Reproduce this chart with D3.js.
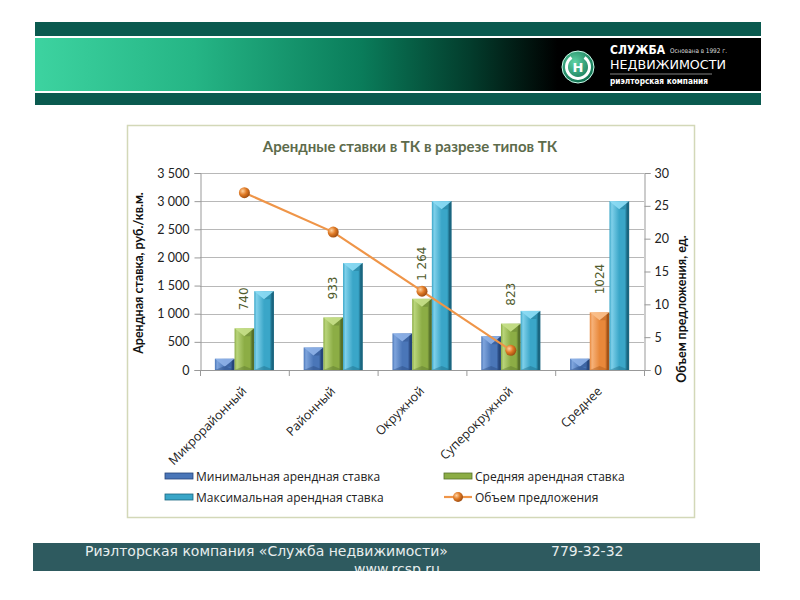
<!DOCTYPE html>
<html><head><meta charset="utf-8">
<script src="https://cdn.jsdelivr.net/npm/d3@7/dist/d3.min.js"></script>
<style>html,body{margin:0;padding:0;background:#fff;}svg{display:block;}</style>
</head><body>
<script>
// ---- data ----
const categories = ["Микрорайонный","Районный","Окружной","Суперокружной","Среднее"];
const minRate = [200, 400, 650, 600, 200];
const avgRate = [740, 933, 1264, 823, 1024];
const maxRate = [1400, 1900, 3000, 1050, 3000];
const supply = [27, 21, 12, 3, null];
const avgLabels = ["740", "933", "1 264", "823", "1024"];
const leftTicks = [0, 500, 1000, 1500, 2000, 2500, 3000, 3500];
const leftTickLabels = ["0", "500", "1 000", "1 500", "2 000", "2 500", "3 000", "3 500"];
const rightTicks = [0, 5, 10, 15, 20, 25, 30];
const seriesNames = ["Минимальная арендная ставка", "Средняя арендная ставка", "Максимальная арендная ставка", "Объем предложения"];

const W = 800, H = 600;
const svg = d3.select("body").append("svg").attr("width", W).attr("height", H);
const defs = svg.append("defs");

// ---- header ----
const hg = defs.append("linearGradient").attr("id","hdr").attr("x1","0").attr("x2","1");
[[0,"#3dd3a0"],[0.22,"#25b585"],[0.45,"#0a7c5a"],[0.6,"#033c2c"],[0.72,"#000"],[1,"#000"]].forEach(s=>hg.append("stop").attr("offset",s[0]).attr("stop-color",s[1]));
svg.append("rect").attr("x",35).attr("y",22).attr("width",726).attr("height",14).attr("fill","#0a5a4f");
svg.append("rect").attr("x",35).attr("y",38).attr("width",726).attr("height",53).attr("fill","url(#hdr)");
svg.append("rect").attr("x",35).attr("y",93).attr("width",726).attr("height",12).attr("fill","#0a5a4f");
// logo
const lg = defs.append("radialGradient").attr("id","logo").attr("cx","0.4").attr("cy","0.35").attr("r","0.7");
lg.append("stop").attr("offset",0).attr("stop-color","#5fd3a5");
lg.append("stop").attr("offset",1).attr("stop-color","#0a6a4a");
svg.append("circle").attr("cx",578).attr("cy",67).attr("r",16).attr("fill","url(#logo)").attr("stroke","#cfe","stroke-width",0.8);
svg.append("path").attr("d",d3.arc()({innerRadius:10,outerRadius:13,startAngle:0.6,endAngle:Math.PI*2-0.6})).attr("transform","translate(578,67)").attr("fill","#fff");
svg.append("text").attr("x",578).attr("y",72).attr("text-anchor","middle").attr("font-family","DejaVu Sans").attr("font-weight","bold").attr("font-size",13).attr("fill","#fff").text("Н");
svg.append("text").attr("x",610).attr("y",54).attr("font-family","DejaVu Sans").attr("font-weight","bold").attr("font-size",11.5).attr("fill","#fff").attr("textLength",55).attr("lengthAdjust","spacingAndGlyphs").text("СЛУЖБА");
svg.append("text").attr("x",670).attr("y",53).attr("font-family","DejaVu Sans").attr("font-size",6.5).attr("fill","#ddd").attr("textLength",57).attr("lengthAdjust","spacingAndGlyphs").text("Основана в 1992 г.");
svg.append("text").attr("x",610).attr("y",69).attr("font-family","DejaVu Sans").attr("font-size",12).attr("fill","#fff").attr("textLength",116).attr("lengthAdjust","spacingAndGlyphs").text("НЕДВИЖИМОСТИ");
svg.append("line").attr("x1",610).attr("x2",712).attr("y1",74).attr("y2",74).attr("stroke","#bbb").attr("stroke-width",0.7);
svg.append("text").attr("x",610).attr("y",84).attr("font-family","DejaVu Sans").attr("font-weight","bold").attr("font-size",8).attr("fill","#fff").attr("textLength",98).attr("lengthAdjust","spacingAndGlyphs").text("риэлторская компания");

// ---- chart frame ----
svg.append("rect").attr("x",127.5).attr("y",125.5).attr("width",567).attr("height",392).attr("fill","#fff").attr("stroke","#d3d8b8").attr("stroke-width",1.5);
svg.append("text").attr("x",410).attr("y",152).attr("text-anchor","middle").attr("font-family","Lato").attr("font-weight","bold").attr("font-size",15).attr("fill","#5d6b4b").text("Арендные ставки в ТК в разрезе типов ТК");

const x0 = 200, x1 = 644, yTop = 173, yBot = 370;
const x = d3.scaleBand().domain(categories).range([x0, x1]);
const y = d3.scaleLinear().domain([0, 3500]).range([yBot, yTop]);
const y2 = d3.scaleLinear().domain([0, 30]).range([yBot, yTop]);
const groupW = x.bandwidth() * 0.665;
const xs = d3.scaleBand().domain(["min","avg","max"]).range([0, groupW]);

// gridlines
svg.append("g").selectAll("line").data(leftTicks).join("line")
  .attr("x1", x0).attr("x2", x1).attr("y1", d => Math.round(y(d)) + 0.5).attr("y2", d => Math.round(y(d)) + 0.5)
  .attr("stroke", "#b8b8b8").attr("stroke-width", 1);

// left axis
const axL = svg.append("g").attr("transform", `translate(${x0 + 0.5},0)`)
  .call(d3.axisLeft(y).tickValues(leftTicks).tickFormat((d, i) => leftTickLabels[i]).tickSize(6).tickPadding(5));
axL.select(".domain").attr("stroke", "#999");
axL.selectAll(".tick line").attr("stroke", "#999");
axL.selectAll("text").attr("font-family", "Lato").attr("font-size", 12.5).attr("fill", "#222");
// right axis
const axR = svg.append("g").attr("transform", `translate(${x1 + 0.5},0)`)
  .call(d3.axisRight(y2).tickValues(rightTicks).tickSize(6).tickPadding(4));
axR.select(".domain").attr("stroke", "#999");
axR.selectAll(".tick line").attr("stroke", "#999");
axR.selectAll("text").attr("font-family", "Lato").attr("font-size", 12.5).attr("fill", "#222");
// bottom axis
const boundaries = categories.map(c => x(c)).concat([x1]);
svg.append("line").attr("x1", x0).attr("x2", x1).attr("y1", yBot + 0.5).attr("y2", yBot + 0.5).attr("stroke", "#999");
svg.append("g").selectAll("line").data(boundaries).join("line")
  .attr("x1", d => d + 0.5).attr("x2", d => d + 0.5).attr("y1", yBot).attr("y2", yBot + 6).attr("stroke", "#999");
svg.append("g").selectAll("text").data(categories).join("text")
  .attr("transform", d => `translate(${x(d) + x.bandwidth() / 2 + 3},${yBot + 22}) rotate(-45)`)
  .attr("text-anchor", "end").attr("font-family", "Open Sans").attr("font-size", 12.5).attr("fill", "#222").text(d => d);

// axis titles
svg.append("text").attr("transform", "translate(143,273) rotate(-90)").attr("text-anchor", "middle")
  .attr("font-family", "Lato").attr("font-weight", "bold").attr("font-size", 12.5).attr("fill", "#111").text("Арендная ставка, руб./кв.м.");
svg.append("text").attr("transform", "translate(686,309) rotate(-90)").attr("text-anchor", "middle")
  .attr("font-family", "Lato").attr("font-weight", "bold").attr("font-size", 12.5).attr("fill", "#111").text("Объем предложения, ед.");

// ---- bars with bevel ----
const palettes = {
  blue:   {light: "#7ea4dc", mid: "#4a76b8", dark: "#26457a", tip: "#8fb3e8"},
  green:  {light: "#b8d47a", mid: "#8cad45", dark: "#56712a", tip: "#c6e08a"},
  cyan:   {light: "#7fd0ea", mid: "#3aa6c8", dark: "#1b6680", tip: "#8ddcf4"},
  orange: {light: "#f6b27a", mid: "#e8883a", dark: "#a45417", tip: "#f9c08c"}
};
Object.entries(palettes).forEach(([k, p]) => {
  const g = defs.append("linearGradient").attr("id", "g-" + k).attr("x1", "0").attr("x2", "1");
  [[0, p.mid], [0.12, p.light], [0.5, p.mid], [0.82, p.mid], [0.9, p.dark], [1, p.dark]].forEach(s => g.append("stop").attr("offset", s[0]).attr("stop-color", s[1]));
});
function drawBar(g, bx, val, pal) {
  const bw = xs.bandwidth();
  const top = y(val), h = yBot - top;
  const p = palettes[pal];
  g.append("rect").attr("x", bx).attr("y", top).attr("width", bw).attr("height", h).attr("fill", `url(#g-${pal})`);
  const th = Math.min(8, h);
  g.append("path").attr("d", `M${bx},${top}L${bx + bw},${top}L${bx + bw / 2},${top + th}Z`).attr("fill", p.tip).attr("opacity", 0.9);
  g.append("path").attr("d", `M${bx + bw},${top}L${bx + bw / 2},${top + th}L${bx + bw * 0.8},${top + th}L${bx + bw * 0.8},${yBot}L${bx + bw},${yBot}Z`).attr("fill", p.dark).attr("opacity", 0.35);
  const bh = Math.min(4, h / 2);
  g.append("path").attr("d", `M${bx},${yBot}L${bx + bw},${yBot}L${bx + bw / 2},${yBot - bh}Z`).attr("fill", p.dark).attr("opacity", 0.4);
}
const barsG = svg.append("g");
categories.forEach((c, i) => {
  const gx = x(c) + (x.bandwidth() - groupW) / 2;
  drawBar(barsG, gx + xs("min"), minRate[i], "blue");
  drawBar(barsG, gx + xs("avg"), avgRate[i], i === categories.length - 1 ? "orange" : "green");
  drawBar(barsG, gx + xs("max"), maxRate[i], "cyan");
  const cx = gx + xs("avg") + xs.bandwidth() / 2;
  svg.append("text").attr("transform", `translate(${cx},${y(avgRate[i]) - 18}) rotate(-90)`)
    .attr("dominant-baseline", "central").attr("font-family", "DejaVu Sans").attr("font-size", 12)
    .attr("fill", "#4f5b2c").text(avgLabels[i]);
});

// ---- supply line ----
const mg = defs.append("radialGradient").attr("id", "mk").attr("cx", "0.35").attr("cy", "0.35").attr("r", "0.7");
mg.append("stop").attr("offset", 0).attr("stop-color", "#ffd2a0");
mg.append("stop").attr("offset", 0.5).attr("stop-color", "#e07a25");
mg.append("stop").attr("offset", 1).attr("stop-color", "#9a4a10");
const pts = categories.map((c, i) => ({c, v: supply[i]})).filter(d => d.v != null);
const line = d3.line().x(d => x(d.c) + x.bandwidth() / 2).y(d => y2(d.v));
svg.append("path").attr("d", line(pts)).attr("fill", "none").attr("stroke", "#ef9548").attr("stroke-width", 2.2);
svg.append("g").selectAll("circle").data(pts).join("circle")
  .attr("cx", d => x(d.c) + x.bandwidth() / 2).attr("cy", d => y2(d.v)).attr("r", 5.5).attr("fill", "url(#mk)");

// ---- legend ----
const leg = svg.append("g").attr("font-family", "Open Sans").attr("font-size", 12).attr("fill", "#222");
const legItems = [
  {name: seriesNames[0], pal: "blue", x: 165, y: 476},
  {name: seriesNames[1], pal: "green", x: 444, y: 476},
  {name: seriesNames[2], pal: "cyan", x: 165, y: 497},
  {name: seriesNames[3], pal: "line", x: 444, y: 497}
];
legItems.forEach(it => {
  if (it.pal === "line") {
    leg.append("line").attr("x1", it.x).attr("x2", it.x + 28).attr("y1", it.y).attr("y2", it.y).attr("stroke", "#ef9548").attr("stroke-width", 2.2);
    leg.append("circle").attr("cx", it.x + 14).attr("cy", it.y).attr("r", 5).attr("fill", "url(#mk)");
  } else {
    const p = palettes[it.pal];
    leg.append("rect").attr("x", it.x).attr("y", it.y - 3).attr("width", 28).attr("height", 6).attr("fill", p.mid).attr("stroke", p.dark).attr("stroke-width", 0.8);
  }
  leg.append("text").attr("x", it.x + 31).attr("y", it.y + 4.5).text(it.name);
});

// ---- footer ----
svg.append("rect").attr("x", 33).attr("y", 543).attr("width", 727).attr("height", 28).attr("fill", "#2e5a5f");
const ft = svg.append("g").attr("font-family", "DejaVu Sans").attr("font-size", 14).attr("fill", "#e8eeee");
ft.append("text").attr("x", 85).attr("y", 556).text("Риэлторская компания «Служба недвижимости»");
ft.append("text").attr("x", 551).attr("y", 556).text("779-32-32");
const clip = defs.append("clipPath").attr("id", "fclip");
clip.append("rect").attr("x", 33).attr("y", 543).attr("width", 727).attr("height", 28);
ft.append("text").attr("x", 354).attr("y", 574).attr("clip-path", "url(#fclip)").text("www.rcsp.ru");
</script>
</body></html>
